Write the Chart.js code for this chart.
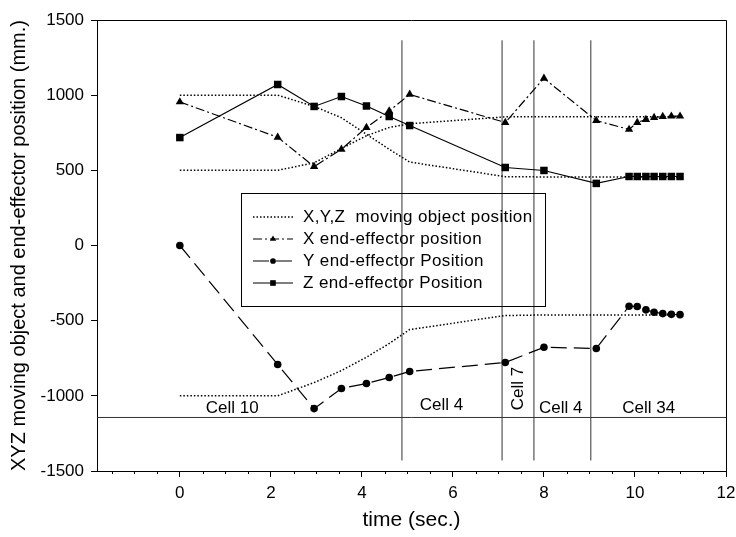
<!DOCTYPE html>
<html>
<head>
<meta charset="utf-8">
<script src="https://cdn.jsdelivr.net/npm/chart.js@4.4.1/dist/chart.umd.min.js"></script>
<style>
  body { margin: 0; background: #fff; }
</style>
</head>
<body>
<canvas id="chart" width="736" height="537"></canvas>
<script>
// end-effector samples (time in sec., position in mm.)
const effTimes  = [0, 2.15, 2.95, 3.55, 4.1, 4.6, 5.05, 7.15, 8.0, 9.15, 9.87, 10.05, 10.24, 10.42, 10.61, 10.8, 10.99];
const xEffector = [955, 720, 525, 640, 785, 895, 1005, 818, 1112, 831, 772, 818, 838, 851, 858, 860, 860];
const yEffector = [0, -792, -1085, -951, -918, -878, -838, -778, -677, -685, -404, -406, -428, -444, -453, -458, -460];
const zEffector = [718, 1071, 925, 991, 928, 858, 798, 519, 499, 413, 459, 459, 459, 459, 459, 459, 459];

// moving object
const objTimes = [0, 2.15, 2.95, 3.55, 4.1, 4.6, 5.05, 7.15, 8.0, 9.15, 11.0];
const xObject  = [500, 500, 550, 645, 730, 785, 810, 856, 856, 856, 856];
const yObject  = [-1000, -1000, -912, -832, -743, -652, -559, -466, -462, -462, -462];
const zObject  = [1000, 1000, 925, 850, 740, 640, 555, 458, 456, 456, 456];

// cell boundaries
const cellBounds = [4.88, 7.08, 7.78, 9.03];
const cellBoundLow = -1430;
const cellBoundHigh = 1365;
const cellFloor = -1144;
const cellNames = ["Cell 10", "Cell 4", "Cell 7", "Cell 4", "Cell 34"];
const cellNameTimes = [1.15, 5.75, 7.43, 8.37, 10.3];
const cellNameLevels = [-1085, -1060, -951, -1085, -1085];

const xTicks = [0, 2, 4, 6, 8, 10, 12];
const xMin = -1.82, xMax = 12;

const FONT = '"Liberation Sans", Arial, sans-serif';

function series(label, xs, ys, dash, style, r, width) {
    return {
        label,
        data: xs.map((t, i) => ({ x: t, y: ys[i] })),
        showLine: true,
        borderColor: "#000",
        backgroundColor: "#000",
        borderWidth: width,
        borderDash: dash,
        pointStyle: style,
        pointRadius: r,
        pointHoverRadius: r,
        pointBorderWidth: 0,
        tension: 0
    };
}

function rule(points) {
    return {
        label: "",
        data: points,
        showLine: true,
        borderColor: "#333",
        borderWidth: 1,
        pointRadius: 0,
        pointHoverRadius: 0
    };
}

const datasets = [
    series("X,Y,Z  moving object position", objTimes, xObject, [1.5, 2], "circle", 0, 1.5),
    series("", objTimes, yObject, [1.5, 2], "circle", 0, 1.5),
    series("", objTimes, zObject, [1.5, 2], "circle", 0, 1.5),
    series("X end-effector position", effTimes, xEffector, [9, 3, 2, 3], "triangle", 4.8, 1.2),
    series("Y end-effector Position", effTimes, yEffector, [16, 7], "circle", 3.8, 1.2),
    series("Z end-effector Position", effTimes, zEffector, [], "rect", 5.3, 1.2)
];
cellBounds.forEach(t => datasets.push(rule([{ x: t, y: cellBoundLow }, { x: t, y: cellBoundHigh }])));
datasets.push(rule([{ x: xMin, y: cellFloor }, { x: xMax, y: cellFloor }]));

const legendSets = [0, 3, 4, 5];

const framePlugin = {
    id: "frame",
    afterDraw(chart) {
        const { ctx, chartArea: a, scales } = chart;
        ctx.save();
        ctx.strokeStyle = "#000";
        ctx.lineWidth = 1;
        ctx.beginPath();
        ctx.moveTo(Math.round(a.left), Math.round(a.top) + 0.5);
        ctx.lineTo(Math.round(a.right) + 0.5, Math.round(a.top) + 0.5);
        ctx.lineTo(Math.round(a.right) + 0.5, Math.round(a.bottom));
        ctx.stroke();
        // minor ticks on time axis
        const x = scales.x;
        ctx.beginPath();
        for (let t = -1.5; t <= 12; t += 0.5) {
            if (xTicks.includes(t)) continue;
            const px = Math.round(x.getPixelForValue(t)) + 0.5;
            ctx.moveTo(px, a.bottom);
            ctx.lineTo(px, a.bottom + 3);
        }
        ctx.stroke();

        // cell names
        ctx.fillStyle = "#000";
        ctx.font = "17px " + FONT;
        ctx.textAlign = "center";
        ctx.textBaseline = "middle";
        cellNames.forEach((name, i) => {
            const px = x.getPixelForValue(cellNameTimes[i]);
            const py = scales.y.getPixelForValue(cellNameLevels[i]);
            ctx.save();
            ctx.translate(px, py);
            if (name === "Cell 7") ctx.rotate(-Math.PI / 2);
            ctx.fillText(name, 0, 0);
            ctx.restore();
        });

        // legend box
        ctx.strokeRect(241.5, 193.5, 304, 113);
        ctx.textAlign = "left";
        ctx.letterSpacing = "0.4px";
        legendSets.forEach((idx, i) => {
            const ds = chart.data.datasets[idx];
            const y = 217 + i * 22;
            ctx.strokeStyle = "#000";
            ctx.fillStyle = "#000";
            ctx.lineWidth = ds.borderWidth;
            ctx.setLineDash(ds.borderDash);
            ctx.beginPath();
            ctx.moveTo(253, y);
            ctx.lineTo(293, y);
            ctx.stroke();
            ctx.setLineDash([]);
            if (ds.pointRadius > 0) {
                Chart.helpers.drawPoint(ctx, { pointStyle: ds.pointStyle, radius: ds.pointRadius * 0.75, borderWidth: 0 }, 273, y);
            }
            ctx.fillText(ds.label, 303, y);
        });
        ctx.restore();
    }
};

new Chart(document.getElementById("chart"), {
    type: "scatter",
    data: { datasets },
    options: {
        responsive: false,
        animation: false,
        events: [],
        layout: { padding: { top: 20, right: 10, left: 0, bottom: 0 } },
        plugins: {
            legend: { display: false },
            tooltip: { enabled: false }
        },
        scales: {
            x: {
                type: "linear",
                min: xMin,
                max: xMax,
                afterBuildTicks: scale => { scale.ticks = xTicks.map(v => ({ value: v })); },
                afterFit: scale => { scale.height = 66; scale.paddingLeft = 0; scale.paddingRight = 0; },
                border: { display: true, color: "#000", width: 1 },
                grid: { drawOnChartArea: false, drawTicks: true, tickLength: 6, color: "#000" },
                ticks: { color: "#000", font: { family: FONT, size: 17 }, padding: 6, maxRotation: 0 },
                title: { display: true, text: "time (sec.)", color: "#000", font: { family: FONT, size: 21 }, padding: { top: 0, bottom: 4 } }
            },
            y: {
                type: "linear",
                min: -1500,
                max: 1500,
                ticks: { stepSize: 500, color: "#000", font: { family: FONT, size: 17 }, padding: 7, callback: v => String(v) },
                afterFit: scale => { scale.width = 97; scale.paddingTop = 0; scale.paddingBottom = 0; },
                border: { display: true, color: "#000", width: 1 },
                grid: { drawOnChartArea: false, drawTicks: true, tickLength: 6, color: "#000" },
                title: { display: true, text: "XYZ moving object and end-effector position (mm.)", color: "#000", font: { family: FONT, size: 20 }, padding: { top: 7, bottom: 0 } }
            }
        }
    },
    plugins: [framePlugin]
});
</script>
</body>
</html>
